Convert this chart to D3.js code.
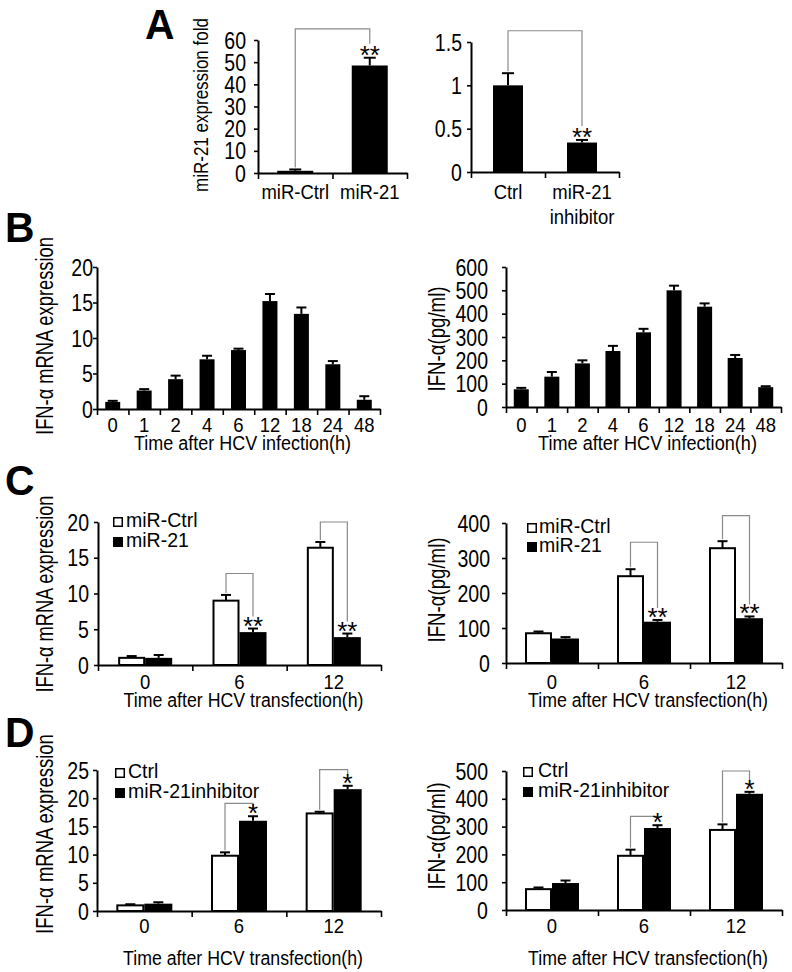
<!DOCTYPE html>
<html>
<head>
<meta charset="utf-8">
<script src="https://cdn.jsdelivr.net/npm/d3@7/dist/d3.min.js"></script>
<style>
  html, body { margin: 0; padding: 0; background: #fff; }
  svg { display: block; }
</style>
</head>
<body>
<svg id="chart" width="792" height="972"></svg>
<script>
// ---------------- DATA ----------------
// Panel A
const aLeftCats = [["miR-Ctrl"], ["miR-21"]];
const aLeftVals = [1.0, 48.5];
const aLeftErr = [0.6, 3.5];
const aLeftTicks = [0, 10, 20, 30, 40, 50, 60];
const aLeftBracket = 65;

const aRightCats = [["Ctrl"], ["miR-21", "inhibitor"]];
const aRightVals = [1.0, 0.34];
const aRightErr = [0.14, 0.03];
const aRightTicks = [0, 0.5, 1, 1.5];
const aRightBracket = 1.63;

// Panel B
const bTimes = ["0", "1", "2", "4", "6", "12", "18", "24", "48"];
const bMrnaVals = [1.0, 2.6, 4.2, 7.0, 8.3, 15.2, 13.4, 6.3, 1.3];
const bMrnaErr = [0.15, 0.2, 0.5, 0.5, 0.2, 1.0, 0.9, 0.45, 0.5];
const bMrnaTicks = [0, 5, 10, 15, 20];
const bProtVals = [76, 130, 187, 240, 320, 500, 430, 210, 85];
const bProtErr = [6, 20, 13, 22, 15, 20, 14, 13, 4];
const bProtTicks = [0, 100, 200, 300, 400, 500, 600];

// Panel C
const cTimes = ["0", "6", "12"];
const cSeries = ["miR-Ctrl", "miR-21"];
const cMrnaCtrl = [1.0, 9.0, 16.4];
const cMrnaCtrlErr = [0.25, 0.8, 0.8];
const cMrna21 = [1.0, 4.6, 3.9];
const cMrna21Err = [0.4, 0.5, 0.5];
const cMrnaTicks = [0, 5, 10, 15, 20];
const cMrnaBrackets = [12.8, 20];
const cProtCtrl = [85, 248, 328];
const cProtCtrlErr = [5, 20, 20];
const cProt21 = [70, 118, 128];
const cProt21Err = [4, 5, 5];
const cProtTicks = [0, 100, 200, 300, 400];
const cProtBrackets = [345, 421];

// Panel D
const dTimes = ["0", "6", "12"];
const dSeries = ["Ctrl", "miR-21inhibitor"];
const dMrnaCtrl = [1.0, 9.8, 17.3];
const dMrnaCtrlErr = [0.2, 0.6, 0.3];
const dMrnaInh = [1.3, 16.0, 21.6];
const dMrnaInhErr = [0.25, 0.8, 0.6];
const dMrnaTicks = [0, 5, 10, 15, 20, 25];
const dMrnaBrackets = [19.1, 25.05];
const dProtCtrl = [75, 195, 288];
const dProtCtrlErr = [6, 22, 20];
const dProtInh = [97, 295, 418];
const dProtInhErr = [9, 10, 7];
const dProtTicks = [0, 100, 200, 300, 400, 500];
const dProtBrackets = [337, 500];

// ---------------- DRAWING ----------------
const FONT = "'Liberation Sans', Arial, sans-serif";
const SX = 0.85;           // horizontal condensing to mimic a narrow face
const svg = d3.select("#chart");

function txt(g, x, y, t, o = {}) {
  const e = g.append("text")
    .attr("text-anchor", o.anchor || "start")
    .attr("font-family", FONT)
    .attr("font-size", o.size || 21)
    .attr("font-weight", o.weight || "normal")
    .attr("fill", "#000")
    .text(t);
  let sx = o.sx || SX;
  if (o.len) sx = o.len / e.node().getComputedTextLength();
  e.attr("transform", `translate(${x},${y})${o.rot ? " rotate(-90)" : ""} scale(${sx},1)`);
  return e;
}

function drawPanel(p) {
  const g = svg.append("g");
  const n = p.cats.length;
  const ns = p.series.length;
  const xs = d3.scaleBand().domain(d3.range(n)).range([p.x0, p.x1]);
  const xl = d3.scaleLinear().domain([0, n]).range([p.x0, p.x1]);
  const y = d3.scaleLinear().domain([0, p.max]).range([p.y0, p.yTop]);
  const barX = (ci, si) => xs(ci) + xs.bandwidth() / 2 - ns * p.barW / 2 + si * p.barW;
  const barC = (ci, si) => barX(ci, si) + p.barW / 2;
  const errTop = (ci, si) => y(p.series[si].vals[ci] + p.series[si].errs[ci]);

  // bars
  p.series.forEach((s, si) => {
    const hollow = s.fill === "#fff";
    g.append("g").selectAll("rect").data(s.vals).join("rect")
      .attr("x", (d, ci) => barX(ci, si) + (hollow ? 1 : 0))
      .attr("width", hollow ? p.barW - 2 : p.barW)
      .attr("y", d => y(d))
      .attr("height", d => p.y0 - y(d))
      .attr("fill", s.fill)
      .attr("stroke", hollow ? "#000" : "none")
      .attr("stroke-width", 2);
  });
  // error bars (upper only)
  p.series.forEach((s, si) => {
    const eg = g.append("g").attr("stroke", "#000").attr("stroke-width", 2);
    s.vals.forEach((v, ci) => {
      const cx = barC(ci, si);
      eg.append("line").attr("x1", cx).attr("x2", cx).attr("y1", y(v)).attr("y2", y(v + s.errs[ci]));
      eg.append("line").attr("x1", cx - p.cap).attr("x2", cx + p.cap)
        .attr("y1", y(v + s.errs[ci])).attr("y2", y(v + s.errs[ci]));
    });
  });

  // y axis
  const ya = g.append("g").attr("transform", `translate(${p.x0},0)`)
    .call(d3.axisLeft(y).tickValues(p.ticks).tickFormat(d3.format(p.fmt || "d"))
      .tickSize(4).tickSizeOuter(0).tickPadding(p.pad));
  // x axis (ticks at band boundaries)
  const xa = g.append("g").attr("transform", `translate(0,${p.y0})`)
    .call(d3.axisBottom(xl).tickValues(d3.range(n + 1)).tickFormat("")
      .tickSize(6).tickSizeOuter(0));
  [ya, xa].forEach(a => {
    a.select(".domain").attr("stroke", "#000").attr("stroke-width", 2);
    a.selectAll(".tick line").attr("stroke", "#000").attr("stroke-width", 1.6);
  });
  ya.selectAll(".tick text").each(function () {
    const t = d3.select(this);
    const x = +t.attr("x");
    t.attr("x", 0).attr("dy", null).attr("y", null)
      .attr("transform", `translate(${x},8) scale(${SX},1)`)
      .attr("font-family", FONT).attr("font-size", 23).attr("fill", "#000");
  });

  // category labels
  p.cats.forEach((c, ci) => {
    const lines = Array.isArray(c) ? c : [c];
    lines.forEach((t, li) => {
      txt(g, xs(ci) + xs.bandwidth() / 2, p.catY + li * 25, t, { anchor: "middle", size: 21, sx: 0.88 });
    });
  });

  // axis titles
  if (p.xTitle) txt(g, (p.x0 + p.x1) / 2 + 4, p.xTitleY, p.xTitle, { anchor: "middle", len: p.xTitleLen });
  if (p.yTitle) txt(g, p.yTitleX, p.yTitleY || (p.y0 + p.yTop) / 2, p.yTitle,
    { anchor: "middle", rot: true, size: p.yTitleSize || 23, len: p.yTitleLen });

  // significance brackets + stars
  (p.brackets || []).forEach(b => {
    const ax = barC(b.a[0], b.a[1]), bx = barC(b.b[0], b.b[1]);
    const ty = y(b.level);
    const ay = errTop(b.a[0], b.a[1]) - 2;
    const by = errTop(b.b[0], b.b[1]) - p.starGap;
    g.append("path").attr("d", `M${ax},${ay}V${ty}H${bx}V${by}`)
      .attr("fill", "none").attr("stroke", "#8a8a8a").attr("stroke-width", 1.2);
    txt(g, bx, errTop(b.b[0], b.b[1]) + 6, b.stars, { anchor: "middle", size: 26, sx: 1 });
  });

  // legend
  if (p.legend) {
    p.series.forEach((s, si) => {
      const ty = p.legend.y + si * p.legend.gap;
      g.append("rect").attr("x", p.legend.x + 0.75).attr("y", ty + 0.75).attr("width", 8.5).attr("height", 8.5)
        .attr("fill", s.fill).attr("stroke", "#000").attr("stroke-width", 1.5);
      txt(g, p.legend.tx, ty + 10, s.name, { size: 21, sx: 0.93 });
    });
  }
}

// panel letters
[["A", 145, 39], ["B", 5, 242], ["C", 5, 495], ["D", 5, 747]].forEach(([t, x, yy]) => {
  txt(svg, x, yy, t, { size: 43, weight: "bold", sx: 0.95 });
});

// A left
drawPanel({
  x0: 258, x1: 407, yTop: 40, y0: 173, max: 60, ticks: aLeftTicks, pad: 8,
  cats: aLeftCats, series: [{ vals: aLeftVals, errs: aLeftErr, fill: "#000" }],
  barW: 36, cap: 6, catY: 199,
  yTitle: "miR-21 expression fold", yTitleX: 208, yTitleY: 105, yTitleLen: 174, yTitleSize: 21,
  brackets: [{ a: [0, 0], b: [1, 0], level: aLeftBracket, stars: "**" }], starGap: 14
});
// A right
drawPanel({
  x0: 471, x1: 619, yTop: 42, y0: 172, max: 1.5, ticks: aRightTicks, pad: 5, fmt: "~g",
  cats: aRightCats, series: [{ vals: aRightVals, errs: aRightErr, fill: "#000" }],
  barW: 30, cap: 6, catY: 199, yTitle: "",
  brackets: [{ a: [0, 0], b: [1, 0], level: aRightBracket, stars: "**" }], starGap: 14
});
// B left
drawPanel({
  x0: 97, x1: 380, yTop: 267, y0: 409, max: 20, ticks: bMrnaTicks, pad: 0,
  cats: bTimes, series: [{ vals: bMrnaVals, errs: bMrnaErr, fill: "#000" }],
  barW: 15, cap: 5, catY: 432, xTitle: "Time after HCV infection(h)", xTitleY: 450, xTitleLen: 217,
  yTitle: "IFN-α mRNA expression", yTitleX: 53, yTitleY: 336, yTitleLen: 198
});
// B right
drawPanel({
  x0: 506, x1: 781, yTop: 267, y0: 407, max: 600, ticks: bProtTicks, pad: 14,
  cats: bTimes, series: [{ vals: bProtVals, errs: bProtErr, fill: "#000" }],
  barW: 15, cap: 5, catY: 432, xTitle: "Time after HCV infection(h)", xTitleY: 450, xTitleLen: 219,
  yTitle: "IFN-α(pg/ml)", yTitleX: 445, yTitleY: 339, yTitleLen: 105
});
// C left
drawPanel({
  x0: 98, x1: 381, yTop: 522, y0: 665, max: 20, ticks: cMrnaTicks, pad: 5,
  cats: cTimes,
  series: [{ name: cSeries[0], vals: cMrnaCtrl, errs: cMrnaCtrlErr, fill: "#fff" },
           { name: cSeries[1], vals: cMrna21, errs: cMrna21Err, fill: "#000" }],
  barW: 27, cap: 5, catY: 689, xTitle: "Time after HCV transfection(h)", xTitleY: 707, xTitleLen: 240,
  yTitle: "IFN-α mRNA expression", yTitleX: 53, yTitleY: 594, yTitleLen: 197,
  brackets: [{ a: [1, 0], b: [1, 1], level: cMrnaBrackets[0], stars: "**" },
             { a: [2, 0], b: [2, 1], level: cMrnaBrackets[1], stars: "**" }], starGap: 12,
  legend: { x: 113, y: 517, tx: 126, gap: 20 }
});
// C right
drawPanel({
  x0: 506, x1: 782, yTop: 523, y0: 663, max: 400, ticks: cProtTicks, pad: 12,
  cats: cTimes,
  series: [{ name: cSeries[0], vals: cProtCtrl, errs: cProtCtrlErr, fill: "#fff" },
           { name: cSeries[1], vals: cProt21, errs: cProt21Err, fill: "#000" }],
  barW: 27, cap: 5, catY: 689, xTitle: "Time after HCV transfection(h)", xTitleY: 707, xTitleLen: 240,
  yTitle: "IFN-α(pg/ml)", yTitleX: 445, yTitleY: 590, yTitleLen: 105,
  brackets: [{ a: [1, 0], b: [1, 1], level: cProtBrackets[0], stars: "**" },
             { a: [2, 0], b: [2, 1], level: cProtBrackets[1], stars: "**" }], starGap: 12,
  legend: { x: 527, y: 523, tx: 539, gap: 19 }
});
// D left
drawPanel({
  x0: 97, x1: 381, yTop: 770, y0: 911, max: 25, ticks: dMrnaTicks, pad: 4,
  cats: dTimes,
  series: [{ name: dSeries[0], vals: dMrnaCtrl, errs: dMrnaCtrlErr, fill: "#fff" },
           { name: dSeries[1], vals: dMrnaInh, errs: dMrnaInhErr, fill: "#000" }],
  barW: 28, cap: 5, catY: 933, xTitle: "Time after HCV transfection(h)", xTitleY: 965, xTitleLen: 240,
  yTitle: "IFN-α mRNA expression", yTitleX: 53, yTitleY: 834, yTitleLen: 200,
  brackets: [{ a: [1, 0], b: [1, 1], level: dMrnaBrackets[0], stars: "*" },
             { a: [2, 0], b: [2, 1], level: dMrnaBrackets[1], stars: "*" }], starGap: 8,
  legend: { x: 115, y: 768, tx: 128, gap: 20 }
});
// D right
drawPanel({
  x0: 506, x1: 782, yTop: 771, y0: 910, max: 500, ticks: dProtTicks, pad: 14,
  cats: dTimes,
  series: [{ name: dSeries[0], vals: dProtCtrl, errs: dProtCtrlErr, fill: "#fff" },
           { name: dSeries[1], vals: dProtInh, errs: dProtInhErr, fill: "#000" }],
  barW: 27, cap: 5, catY: 933, xTitle: "Time after HCV transfection(h)", xTitleY: 965, xTitleLen: 240,
  yTitle: "IFN-α(pg/ml)", yTitleX: 445, yTitleY: 836, yTitleLen: 107,
  brackets: [{ a: [1, 0], b: [1, 1], level: dProtBrackets[0], stars: "*" },
             { a: [2, 0], b: [2, 1], level: dProtBrackets[1], stars: "*" }], starGap: 8,
  legend: { x: 523, y: 767, tx: 538, gap: 20 }
});
</script>
</body>
</html>
